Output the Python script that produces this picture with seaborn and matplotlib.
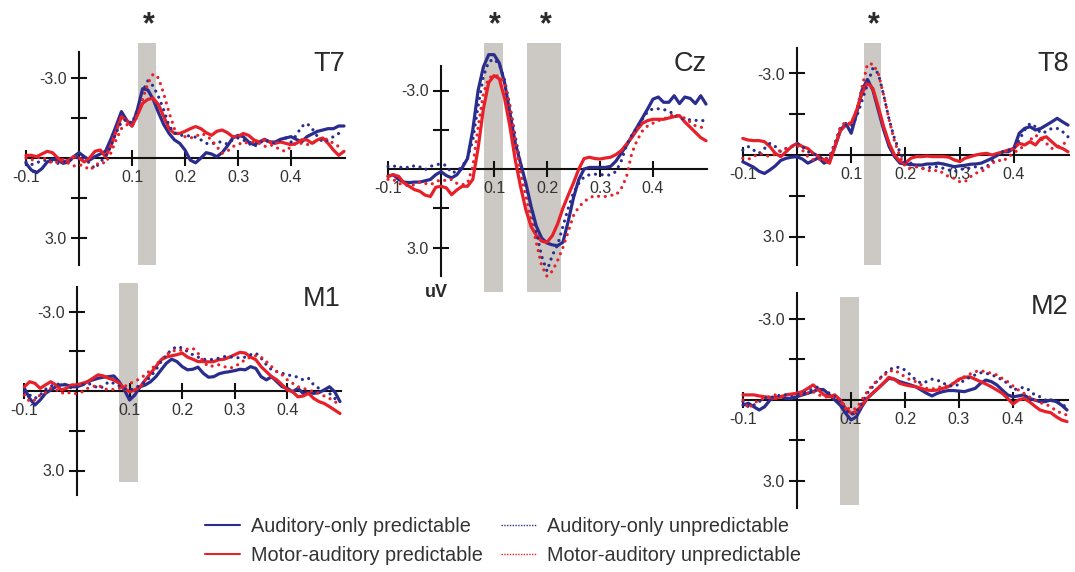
import numpy as np
import pandas as pd
import matplotlib
matplotlib.use("Agg")
import matplotlib.pyplot as plt
from matplotlib.lines import Line2D
import seaborn as sns

# ---------------- data (uV, negative is plotted upward) ----------------
TIME = np.round(np.arange(-0.10, 0.5001, 0.01), 2)

CONDITIONS = ["Auditory-only predictable", "Motor-auditory predictable",
              "Auditory-only unpredictable", "Motor-auditory unpredictable"]
CHANNELS = ["T7", "Cz", "T8", "M1", "M2"]

T7_AUD_PRED = [0.20, 0.45, 0.55, 0.40, 0.15, 0.05, 0.08, 0.20, 0.15, -0.05,
               -0.20, -0.05, 0.08, -0.05, -0.15, -0.25, -0.70, -1.20, -1.74, -1.42,
               -1.20, -1.80, -2.60, -2.55, -2.20, -1.70, -1.25, -0.92, -0.68, -0.55,
               -0.30, 0.08, 0.18, 0.00, -0.20, -0.15, -0.05, -0.20, -0.45, -0.75,
               -0.85, -0.80, -0.60, -0.50, -0.60, -0.70, -0.60, -0.60, -0.70, -0.75,
               -0.80, -0.70, -0.60, -0.80, -0.90, -1.00, -1.05, -1.10, -1.10, -1.20,
               -1.20]
T7_MOT_PRED = [-0.10, -0.10, -0.05, -0.15, -0.25, -0.20, 0.00, 0.15, 0.08, -0.05,
               0.00, 0.15, 0.00, -0.25, -0.30, -0.05, -0.45, -1.00, -1.55, -1.40,
               -1.20, -1.60, -2.05, -2.20, -2.24, -2.00, -1.55, -1.10, -0.92, -0.92,
               -1.00, -1.10, -1.18, -1.10, -0.95, -0.85, -1.00, -1.05, -0.95, -0.80,
               -0.80, -0.92, -0.85, -0.68, -0.60, -0.68, -0.60, -0.55, -0.60, -0.55,
               -0.50, -0.55, -0.68, -0.68, -0.55, -0.68, -0.75, -0.55, -0.30, -0.10,
               -0.25]
T7_AUD_UNPRED = [0.15, 0.25, 0.18, 0.10, 0.08, 0.15, 0.20, 0.15, 0.08, 0.05,
                 -0.05, 0.00, 0.20, 0.40, 0.15, -0.05, -0.45, -0.95, -1.35, -1.45,
                 -1.30, -1.80, -2.50, -2.90, -2.70, -2.30, -1.80, -1.20, -0.95, -0.85,
                 -0.85, -0.82, -0.78, -0.68, -0.55, -0.52, -0.60, -0.60, -0.52, -0.68,
                 -0.75, -0.68, -0.55, -0.43, -0.55, -0.68, -0.60, -0.55, -0.68, -0.75,
                 -0.60, -0.85, -1.18, -1.30, -1.10, -0.80, -0.60, -0.68, -0.80, -0.92,
                 -0.85]
T7_MOT_UNPRED = [0.00, 0.08, 0.00, -0.05, 0.08, 0.20, 0.15, 0.05, 0.20, 0.30,
                 0.25, 0.30, 0.45, 0.30, 0.15, 0.20, -0.18, -0.68, -1.10, -1.25,
                 -1.20, -1.55, -2.20, -2.80, -3.15, -3.00, -2.40, -1.70, -1.10, -0.90,
                 -0.80, -0.75, -0.80, -0.92, -0.85, -0.68, -0.43, -0.18, -0.25, -0.43,
                 -0.50, -0.60, -0.55, -0.60, -0.55, -0.43, -0.50, -0.43, -0.30, -0.25,
                 -0.43, -0.55, -0.55, -0.50, -0.55, -0.68, -0.75, -0.68, -0.55, -0.43,
                 -0.43]

CZ_AUD_PRED = [0.28, 0.22, 0.40, 0.50, 0.52, 0.50, 0.50, 0.45, 0.40, 0.22,
               0.10, 0.25, 0.34, 0.22, -0.05, -0.40, -1.50, -3.00, -3.90, -4.37,
               -4.37, -4.05, -3.30, -2.14, -1.00, -0.23, 0.53, 1.43, 2.19, 2.64,
               2.83, 2.90, 2.93, 2.80, 2.00, 1.10, 0.40, 0.00, -0.06, -0.06,
               -0.06, -0.06, -0.10, -0.30, -0.60, -0.90, -1.25, -1.60, -1.95, -2.30,
               -2.67, -2.75, -2.55, -2.55, -2.80, -2.50, -2.75, -2.70, -2.50, -2.80,
               -2.48]
CZ_MOT_PRED = [0.28, 0.22, 0.28, 0.53, 0.66, 0.79, 0.85, 1.00, 1.05, 0.70,
               0.66, 0.72, 0.98, 0.80, 0.66, 0.66, 0.40, -0.80, -2.30, -3.30,
               -3.57, -3.45, -2.70, -1.63, -0.36, 0.66, 1.55, 2.20, 2.54, 2.76,
               2.80, 2.55, 2.10, 1.50, 1.00, 0.53, 0.00, -0.40, -0.45, -0.40,
               -0.38, -0.42, -0.45, -0.55, -0.70, -0.95, -1.20, -1.50, -1.75, -1.85,
               -1.90, -1.90, -1.90, -1.95, -2.00, -2.04, -1.80, -1.60, -1.40, -1.20,
               -1.08]
CZ_AUD_UNPRED = [-0.10, -0.13, -0.04, -0.10, -0.04, -0.13, -0.08, 0.03, -0.10, -0.16,
                 -0.20, -0.13, 0.15, 0.09, -0.10, -0.42, -1.10, -2.40, -3.54, -4.10,
                 -4.20, -4.00, -3.40, -2.40, -1.25, -0.23, 0.66, 1.55, 2.45, 3.34,
                 3.90, 3.30, 2.90, 2.20, 1.50, 0.90, 0.55, 0.30, 0.22, 0.20,
                 0.20, 0.25, 0.22, 0.10, -0.30, -0.90, -1.30, -1.60, -1.90, -2.20,
                 -2.30, -2.30, -2.28, -2.20, -2.10, -1.95, -1.90, -1.88, -1.86, -1.85,
                 -1.85]
CZ_MOT_UNPRED = [0.40, 0.40, 0.55, 0.60, 0.65, 0.60, 0.50, 0.55, 0.60, 0.50,
                 0.40, 0.45, 0.40, 0.55, 0.60, 0.55, -0.10, -1.60, -2.90, -3.48,
                 -3.57, -3.55, -3.30, -2.40, -1.12, 0.15, 1.04, 1.94, 2.83, 3.70,
                 4.10, 3.90, 3.50, 3.00, 2.40, 1.78, 1.45, 1.25, 1.10, 1.02,
                 1.05, 1.05, 1.00, 1.00, 0.75, 0.30, -0.60, -1.10, -1.45, -1.65,
                 -1.75, -1.85, -1.90, -2.00, -2.10, -2.00, -1.95, -1.80, -1.65, -1.60,
                 -1.55]

T8_AUD_PRED = [0.25, 0.35, 0.45, 0.60, 0.68, 0.55, 0.40, 0.20, 0.12, 0.08,
               0.06, 0.15, 0.30, 0.20, 0.10, 0.30, 0.20, -0.30, -0.90, -1.16,
               -0.80, -1.53, -2.39, -2.78, -2.39, -1.65, -0.92, -0.31, 0.06, 0.30,
               0.33, 0.35, 0.37, 0.37, 0.33, 0.33, 0.30, 0.33, 0.38, 0.43,
               0.40, 0.38, 0.34, 0.33, 0.30, 0.21, 0.12, 0.00, -0.12, -0.12,
               -0.24, -0.80, -0.98, -1.04, -0.92, -0.98, -1.10, -1.22, -1.35, -1.22,
               -1.10]
T8_MOT_PRED = [-0.61, -0.55, -0.53, -0.53, -0.49, -0.31, -0.06, 0.06, -0.12, -0.31,
               -0.43, -0.31, -0.24, -0.06, 0.06, 0.18, 0.30, -0.31, -0.90, -1.10,
               -1.16, -1.65, -2.26, -2.66, -2.45, -1.77, -1.04, -0.43, 0.00, 0.24,
               0.30, 0.12, 0.06, 0.06, 0.04, 0.06, 0.06, 0.06, 0.08, 0.18,
               0.24, 0.12, 0.06, 0.00, -0.04, -0.06, 0.00, -0.06, -0.12, -0.18,
               -0.24, -0.43, -0.37, -0.49, -0.37, -0.61, -0.67, -0.49, -0.31, -0.24,
               -0.12]
T8_AUD_UNPRED = [-0.18, -0.31, -0.18, -0.06, -0.24, -0.43, -0.31, -0.12, -0.24, -0.31,
                 -0.43, -0.31, -0.12, -0.06, 0.06, 0.18, 0.06, -0.43, -0.98, -1.10,
                 -1.04, -1.40, -2.00, -2.60, -3.20, -3.00, -2.20, -1.30, -0.60, -0.10,
                 0.30, 0.30, 0.43, 0.49, 0.49, 0.43, 0.43, 0.49, 0.55, 0.61,
                 0.55, 0.49, 0.49, 0.43, 0.49, 0.43, 0.24, 0.00, -0.12, -0.18,
                 -0.24, -0.55, -0.92, -1.16, -1.04, -0.80, -0.86, -0.98, -0.98, -0.86,
                 -0.67]
T8_MOT_UNPRED = [0.12, 0.16, 0.06, -0.06, 0.00, 0.06, -0.04, -0.18, -0.24, -0.31,
                 -0.37, -0.18, 0.06, 0.18, 0.16, 0.18, 0.06, -0.43, -1.04, -1.22,
                 -1.16, -1.65, -2.50, -3.35, -3.35, -3.00, -2.20, -1.30, -0.50, 0.06,
                 0.43, 0.49, 0.43, 0.49, 0.55, 0.61, 0.55, 0.67, 0.80, 0.86,
                 0.98, 0.98, 0.80, 0.67, 0.61, 0.49, 0.31, 0.18, 0.24, 0.06,
                 -0.06, -0.24, -0.31, -0.55, -0.73, -0.61, -0.43, -0.24, -0.31, -0.37,
                 -0.55]

M1_AUD_PRED = [-0.10, 0.28, 0.53, 0.34, 0.09, -0.04, -0.16, -0.23, -0.23, -0.16,
               -0.16, -0.23, -0.35, -0.42, -0.48, -0.52, -0.54, -0.57, -0.35, -0.04,
               0.34, 0.15, -0.16, -0.23, -0.35, -0.54, -0.80, -1.05, -1.20, -1.11,
               -0.92, -0.80, -0.82, -0.90, -0.67, -0.52, -0.54, -0.65, -0.70, -0.73,
               -0.77, -0.82, -0.80, -0.92, -0.85, -0.54, -0.42, -0.54, -0.35, -0.16,
               -0.10, 0.03, -0.10, 0.09, 0.06, 0.09, 0.06, -0.04, -0.16, 0.03,
               0.40]
M1_MOT_PRED = [-0.16, -0.35, -0.29, -0.10, -0.23, -0.35, -0.23, -0.04, -0.10, -0.23,
               -0.23, -0.29, -0.35, -0.48, -0.61, -0.57, -0.48, -0.42, -0.29, -0.10,
               0.03, -0.04, -0.16, -0.42, -0.67, -0.92, -1.18, -1.28, -1.33, -1.37,
               -1.43, -1.28, -1.20, -1.11, -1.11, -1.10, -1.11, -1.18, -1.20, -1.28,
               -1.37, -1.46, -1.43, -1.28, -1.18, -0.92, -0.73, -0.54, -0.42, -0.23,
               -0.04, 0.03, 0.22, 0.19, 0.09, 0.28, 0.40, 0.47, 0.59, 0.72,
               0.85]
M1_AUD_UNPRED = [0.03, 0.15, 0.28, 0.15, -0.06, -0.19, -0.23, -0.29, -0.23, -0.10,
                 -0.16, -0.23, -0.29, -0.23, -0.10, -0.16, -0.35, -0.29, -0.19, -0.10,
                 -0.04, -0.10, -0.23, -0.35, -0.54, -0.80, -1.11, -1.37, -1.56, -1.68,
                 -1.62, -1.49, -1.37, -1.28, -1.20, -1.18, -1.20, -1.24, -1.30, -1.28,
                 -1.28, -1.24, -1.28, -1.37, -1.43, -1.24, -0.99, -0.80, -0.73, -0.67,
                 -0.61, -0.57, -0.52, -0.42, -0.48, -0.23, -0.10, -0.04, 0.09, 0.28,
                 0.40]
M1_MOT_UNPRED = [0.15, 0.40, 0.34, 0.15, 0.06, -0.10, -0.06, 0.09, 0.03, 0.11,
                 0.09, 0.03, -0.10, -0.16, -0.23, -0.10, -0.04, -0.06, -0.10, -0.16,
                 -0.29, -0.35, -0.48, -0.61, -0.80, -0.99, -1.18, -1.37, -1.49, -1.56,
                 -1.53, -1.58, -1.62, -1.43, -1.11, -0.92, -0.95, -0.99, -0.92, -0.86,
                 -0.92, -1.05, -1.18, -1.28, -1.33, -1.28, -1.11, -0.92, -0.73, -0.61,
                 -0.42, -0.29, -0.16, -0.10, -0.04, 0.03, 0.09, 0.19, 0.28, 0.40,
                 0.53]

M2_AUD_PRED = [0.19, 0.12, 0.25, 0.37, 0.25, 0.00, -0.10, -0.12, -0.06, -0.06,
               -0.12, -0.19, -0.25, -0.31, -0.40, -0.37, -0.19, 0.00, 0.19, 0.49,
               0.74, 0.62, 0.25, -0.06, -0.25, -0.43, -0.62, -0.80, -0.77, -0.68,
               -0.62, -0.56, -0.49, -0.37, -0.25, -0.15, -0.25, -0.31, -0.35, -0.35,
               -0.33, -0.31, -0.37, -0.43, -0.62, -0.74, -0.68, -0.56, -0.37, -0.19,
               -0.12, -0.15, -0.19, -0.06, 0.00, 0.06, 0.06, 0.00, 0.06, 0.19,
               0.37]
M2_MOT_PRED = [-0.19, -0.19, -0.19, -0.15, -0.12, -0.10, -0.06, -0.12, -0.19, -0.22,
               -0.25, -0.31, -0.43, -0.56, -0.37, -0.19, -0.12, -0.19, 0.00, 0.31,
               0.49, 0.43, 0.19, -0.06, -0.25, -0.43, -0.62, -0.84, -0.77, -0.62,
               -0.56, -0.52, -0.49, -0.43, -0.37, -0.35, -0.37, -0.43, -0.49, -0.62,
               -0.77, -0.84, -0.86, -0.77, -0.68, -0.59, -0.49, -0.37, -0.25, -0.06,
               0.15, 0.00, -0.06, 0.06, 0.22, 0.37, 0.43, 0.47, 0.62, 0.74,
               0.80]
M2_AUD_UNPRED = [0.06, 0.25, 0.19, 0.06, -0.06, -0.10, -0.12, -0.19, -0.19, -0.12,
                 -0.19, -0.25, -0.31, -0.43, -0.49, -0.37, -0.25, -0.12, 0.06, 0.37,
                 0.56, 0.43, 0.12, -0.25, -0.49, -0.74, -0.93, -1.11, -1.21, -1.21,
                 -1.11, -0.93, -0.74, -0.62, -0.68, -0.77, -0.74, -0.62, -0.56, -0.49,
                 -0.59, -0.74, -0.84, -0.93, -1.01, -0.99, -0.93, -0.86, -0.74, -0.62,
                 -0.37, -0.43, -0.47, -0.37, -0.19, -0.12, 0.00, 0.02, 0.06, 0.12,
                 0.31]
M2_MOT_UNPRED = [0.00, 0.31, 0.12, 0.00, -0.06, -0.12, -0.19, -0.12, -0.19, -0.25,
                 -0.19, -0.19, -0.25, -0.31, -0.19, -0.12, -0.10, -0.12, 0.00, 0.25,
                 0.37, 0.31, 0.00, -0.31, -0.56, -0.74, -0.89, -1.05, -1.11, -0.99,
                 -0.86, -0.74, -0.68, -0.56, -0.43, -0.40, -0.47, -0.49, -0.52, -0.62,
                 -0.74, -0.86, -0.96, -1.05, -1.09, -1.04, -0.99, -0.93, -0.80, -0.68,
                 -0.52, -0.37, -0.25, -0.12, 0.00, 0.10, 0.15, 0.25, 0.40, 0.49,
                 0.56]

# significance windows (s) and whether they carry a star
T7_WINDOWS = [(0.112, 0.145)]
CZ_WINDOWS = [(0.081, 0.117), (0.163, 0.227)]
T8_WINDOWS = [(0.124, 0.155)]
M1_WINDOWS = [(0.080, 0.116)]
M2_WINDOWS = [(0.080, 0.115)]
STARRED = ["T7", "Cz", "T8"]

X_TICKS = [-0.1, 0.1, 0.2, 0.3, 0.4]
X_TICK_LABELS = ["-0.1", "0.1", "0.2", "0.3", "0.4"]
Y_TICKS = [-3.0, -1.5, 1.5, 3.0]
Y_TICK_LABELS = ["-3.0", "", "", "3.0"]

SERIES = {
    "T7": [T7_AUD_PRED, T7_MOT_PRED, T7_AUD_UNPRED, T7_MOT_UNPRED],
    "Cz": [CZ_AUD_PRED, CZ_MOT_PRED, CZ_AUD_UNPRED, CZ_MOT_UNPRED],
    "T8": [T8_AUD_PRED, T8_MOT_PRED, T8_AUD_UNPRED, T8_MOT_UNPRED],
    "M1": [M1_AUD_PRED, M1_MOT_PRED, M1_AUD_UNPRED, M1_MOT_UNPRED],
    "M2": [M2_AUD_PRED, M2_MOT_PRED, M2_AUD_UNPRED, M2_MOT_UNPRED],
}
WINDOWS = {"T7": T7_WINDOWS, "Cz": CZ_WINDOWS, "T8": T8_WINDOWS,
           "M1": M1_WINDOWS, "M2": M2_WINDOWS}

rows = []
for ch in CHANNELS:
    for cond, vals in zip(CONDITIONS, SERIES[ch]):
        for t, v in zip(TIME, vals):
            rows.append((ch, cond, t, v))
df = pd.DataFrame(rows, columns=["channel", "condition", "time", "uV"])

# ---------------- style ----------------
sns.set_style("white")
plt.rcParams["font.family"] = ["Liberation Sans", "DejaVu Sans"]

BLUE = "#2B2D8E"
RED = "#E8202A"
BAND = "#CCC8C3"
TXT = "#2A2A2A"
STYLE = {
    "Auditory-only predictable": dict(color=BLUE, linestyle="-"),
    "Motor-auditory predictable": dict(color=RED, linestyle="-"),
    "Auditory-only unpredictable": dict(color=BLUE, linestyle=(0, (0.01, 2.1)),
                                        dash_capstyle="round"),
    "Motor-auditory unpredictable": dict(color=RED, linestyle=(0, (0.01, 2.1)),
                                         dash_capstyle="round"),
}
DRAW_ORDER = ["Auditory-only predictable", "Motor-auditory predictable",
              "Auditory-only unpredictable", "Motor-auditory unpredictable"]

W, H = 1075, 572
fig = plt.figure(figsize=(W / 100, H / 100), dpi=100)

# layout: origin pixel, px per 0.1 s, px per 3 uV, y-axis extent, band extent
LAYOUT = {
    "T7": dict(ox=79, oy=158, tenth=53.0, three=80.0, yb=(-3.97, 4.0), band=(-4.3, 4.0)),
    "Cz": dict(ox=441, oy=169, tenth=53.0, three=78.5, yb=(-3.93, 4.08), band=(-4.8, 4.7)),
    "T8": dict(ox=797, oy=155, tenth=54.2, three=81.5, yb=(-3.94, 4.05), band=(-4.12, 4.05)),
    "M1": dict(ox=77, oy=391, tenth=52.6, three=79.5, yb=(-3.92, 3.92), band=(-4.08, 3.43)),
    "M2": dict(ox=797, oy=400, tenth=54.0, three=81.0, yb=(-3.96, 4.0), band=(-3.81, 3.89)),
}
XR = (-0.13, 0.53)
YR = (-6.4, 5.4)

for ch in CHANNELS:
    L = LAYOUT[ch]
    sx = L["tenth"] * 10.0
    sy = L["three"] / 3.0
    left = L["ox"] + XR[0] * sx
    right = L["ox"] + XR[1] * sx
    top = L["oy"] + YR[0] * sy
    bottom = L["oy"] + YR[1] * sy
    ax = fig.add_axes([left / W, 1 - bottom / H, (right - left) / W, (bottom - top) / H])
    ax.patch.set_alpha(0)
    ax.set_xlim(*XR)
    ax.set_ylim(YR[1], YR[0])

    for (x0, x1) in WINDOWS[ch]:
        ax.fill_betweenx(list(L["band"]), x0, x1, color=BAND, lw=0, zorder=0.5)
        if ch in STARRED:
            ax.text((x0 + x1) / 2 + 0.003, (33 - L["oy"]) / sy, "*", ha="center",
                    va="baseline", fontsize=22, fontweight="bold", color=TXT)

    sub = df[df["channel"] == ch]
    for cond in DRAW_ORDER:
        d = sub[sub["condition"] == cond]
        sns.lineplot(data=d, x="time", y="uV", ax=ax, estimator=None, errorbar=None,
                     sort=False, lw=2.3, zorder=3, **STYLE[cond])

    for side in ["top", "right"]:
        ax.spines[side].set_visible(False)
    ax.spines["left"].set_position(("data", 0))
    ax.spines["bottom"].set_position(("data", 0))
    ax.spines["left"].set_bounds(*L["yb"])
    ax.spines["bottom"].set_bounds(-0.1, 0.502)
    for side in ["left", "bottom"]:
        ax.spines[side].set_linewidth(1.5)
        ax.spines[side].set_color("#111111")
    ax.set_xticks(X_TICKS)
    ax.set_xticklabels(X_TICK_LABELS)
    ax.set_yticks(Y_TICKS)
    ax.set_yticklabels(Y_TICK_LABELS)
    ax.tick_params(bottom=True, left=True, direction="inout", length=11.5, width=1.5,
                   pad=3, labelsize=11.5, labelcolor="#333333", color="#111111")
    ax.set_xlabel("")
    ax.set_ylabel("")

    ax.text(0.502, (71 - L["oy"]) / sy if ch in ["T7", "T8", "Cz"] else -3.2,
            ch, ha="right", va="baseline", fontsize=19.5, color=TXT)
    if ch == "Cz":
        ax.text(-0.008, (297 - L["oy"]) / sy, "uV", ha="center", va="baseline",
                fontsize=13, fontweight="bold", color=TXT)

handles = [Line2D([], [], color=BLUE, lw=1.5),
           Line2D([], [], color=RED, lw=1.5),
           Line2D([], [], color=BLUE, lw=1.0, linestyle=(0, (1, 1))),
           Line2D([], [], color=RED, lw=1.0, linestyle=(0, (1, 1)))]
leg = fig.legend(handles, CONDITIONS, ncol=2, loc="upper left",
                 bbox_to_anchor=(205 / W, 1 - 517 / H), frameon=False,
                 fontsize=14.3, handlelength=1.75, handletextpad=0.55,
                 columnspacing=0.95, borderpad=0, borderaxespad=0, labelspacing=0.5)
for t in leg.get_texts():
    t.set_color("#333333")

fig.savefig("out.png", dpi=100)
